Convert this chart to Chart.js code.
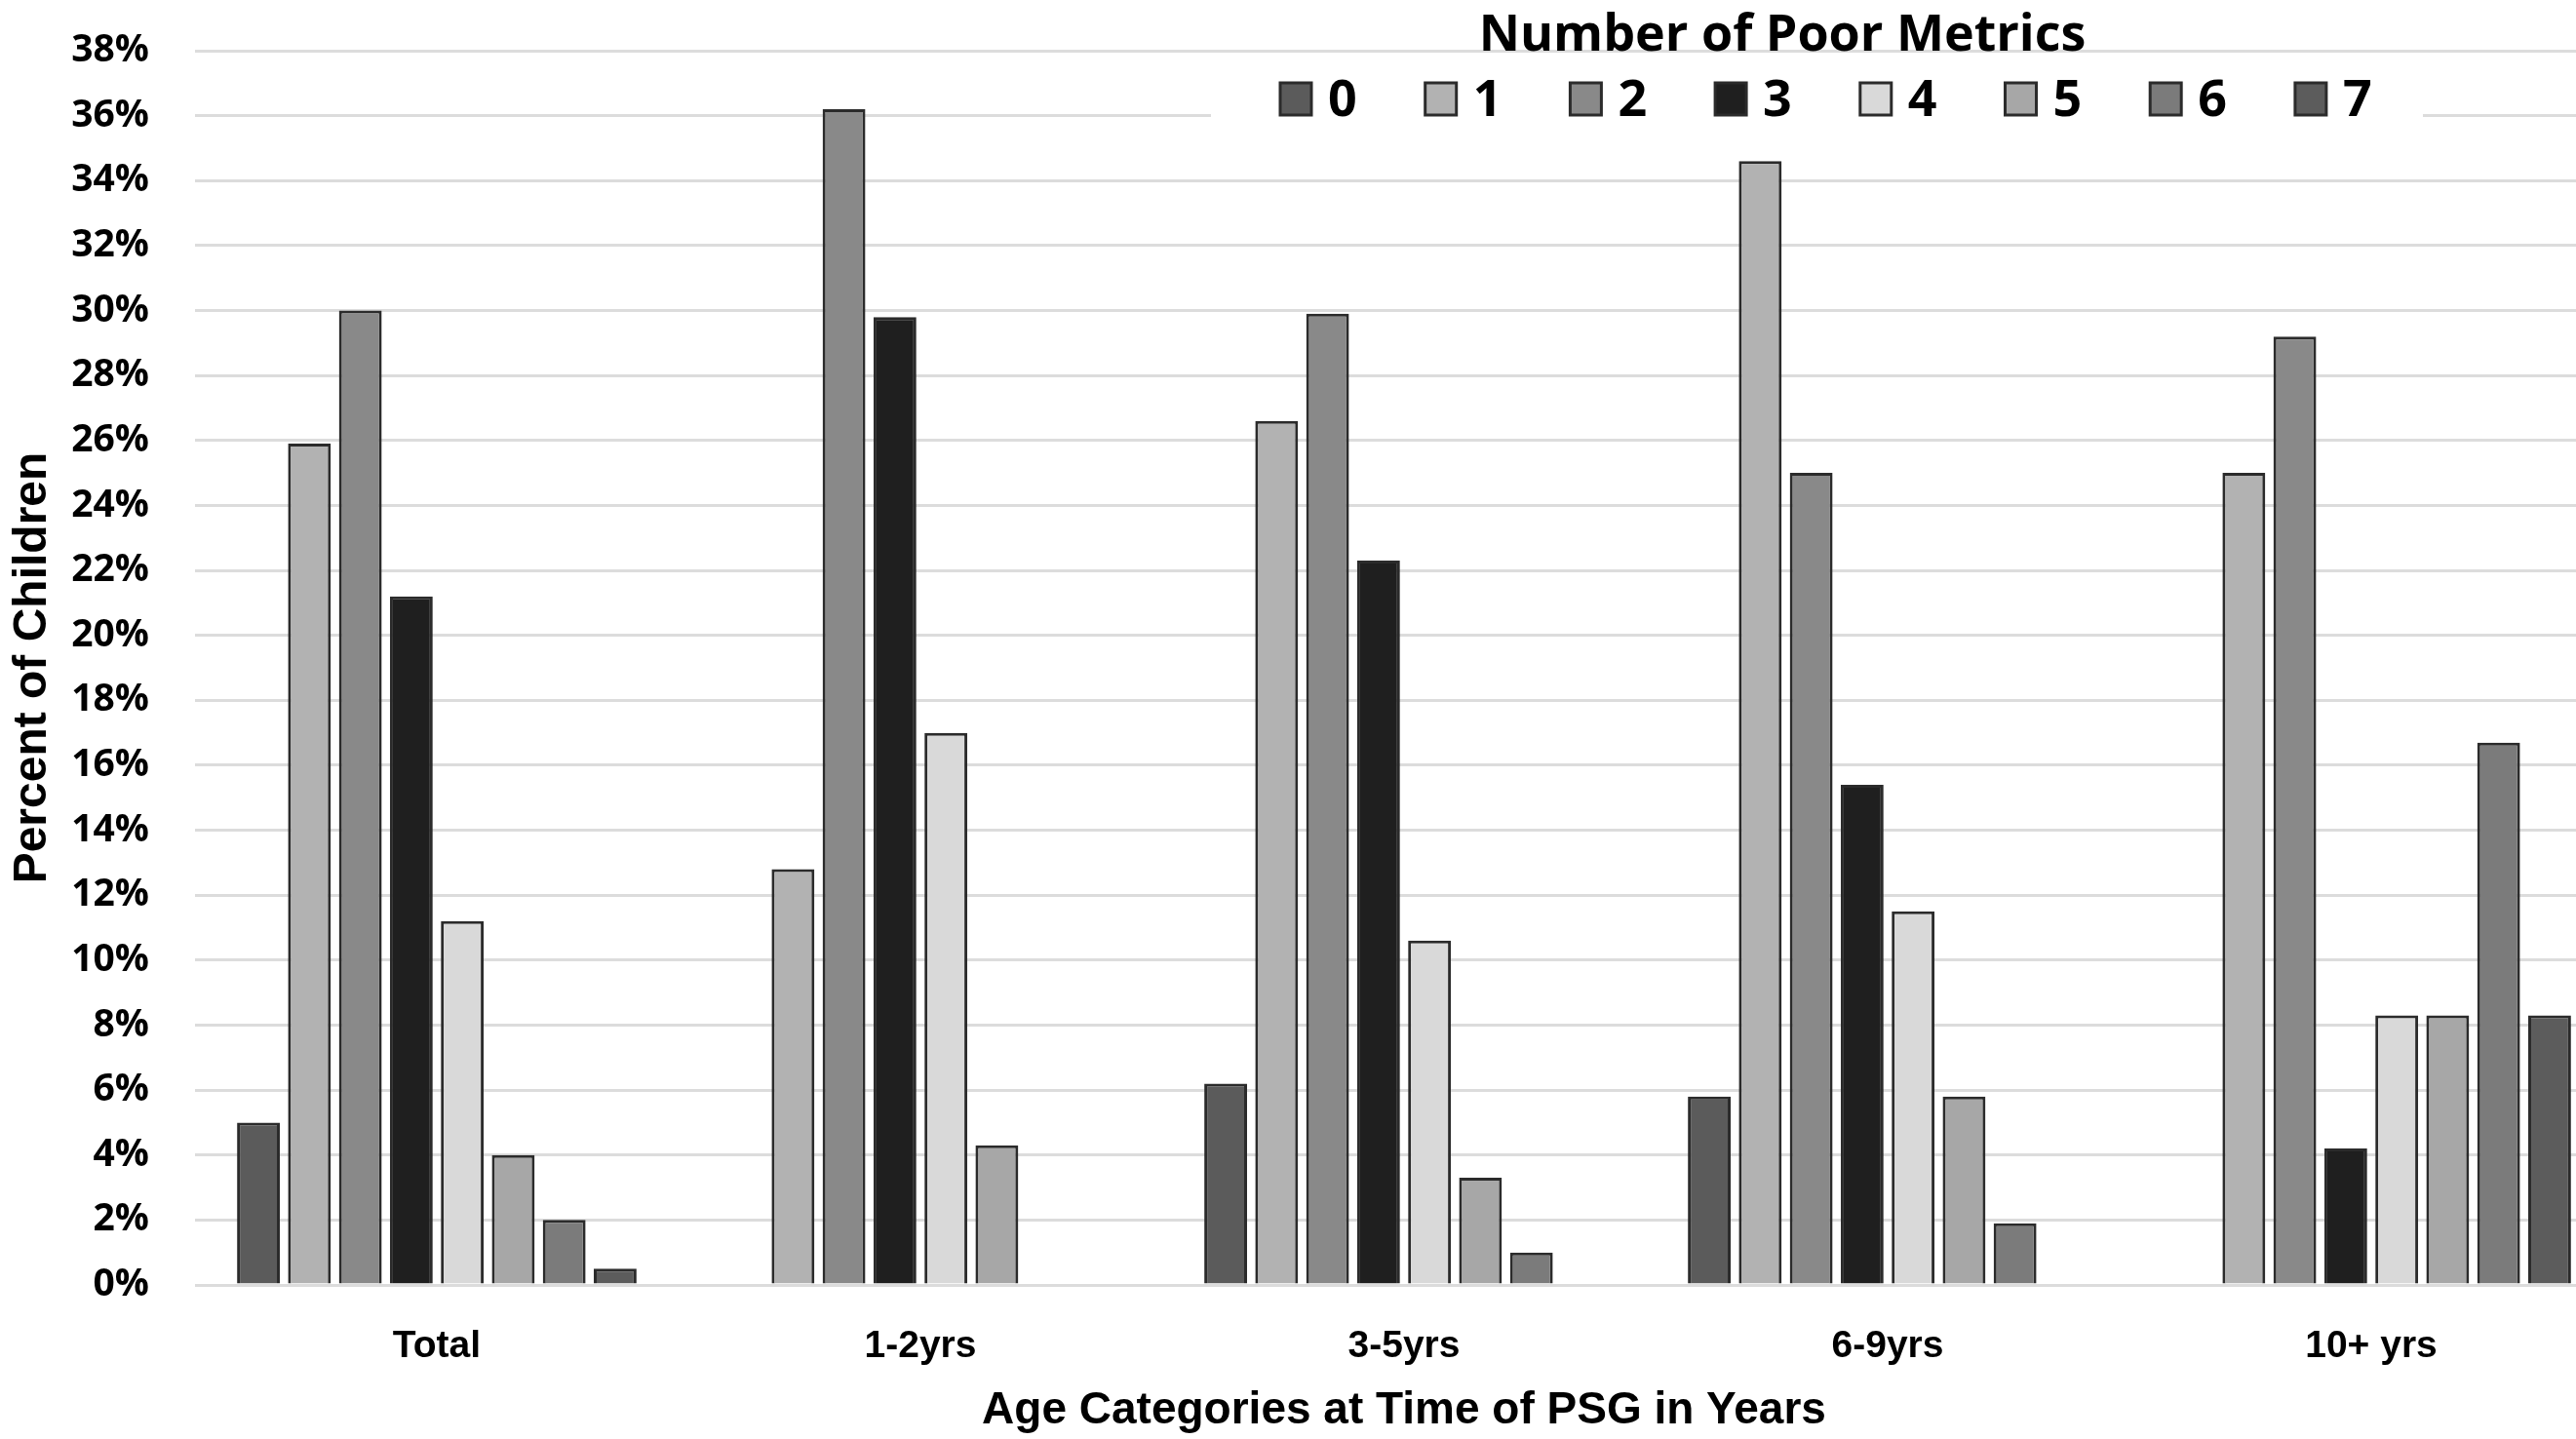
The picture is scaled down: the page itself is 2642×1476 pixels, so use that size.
<!DOCTYPE html>
<html>
<head>
<meta charset="utf-8">
<script src="https://cdn.jsdelivr.net/npm/chart.js@4/dist/chart.umd.min.js"></script>
<style>
  html, body { margin: 0; padding: 0; background: #fff; overflow: hidden; }
  #wrap { width: 2690px; height: 1476px; }
</style>
</head>
<body>
<div id="wrap"><canvas id="myChart"></canvas></div>
<script>
// age groups on the x axis
var categories = ['Total', '1-2yrs', '3-5yrs', '6-9yrs', '10+ yrs'];

// percent of children per number of poor metrics (0..7), one array per metric count
var metric0 = [5.0, 0, 6.2, 5.8, 0];
var metric1 = [25.9, 12.8, 26.6, 34.6, 25.0];
var metric2 = [30.0, 36.2, 29.9, 25.0, 29.2];
var metric3 = [21.2, 29.8, 22.3, 15.4, 4.2];
var metric4 = [11.2, 17.0, 10.6, 11.5, 8.3];
var metric5 = [4.0, 4.3, 3.3, 5.8, 8.3];
var metric6 = [2.0, 0, 1.0, 1.9, 16.7];
var metric7 = [0.5, 0, 0, 0, 8.3];

var seriesLabels = ['0', '1', '2', '3', '4', '5', '6', '7'];
var seriesValues = [metric0, metric1, metric2, metric3, metric4, metric5, metric6, metric7];
var seriesColors = ['#5b5b5b', '#b2b2b2', '#898989', '#1f1f1f', '#d9d9d9', '#a7a7a7', '#7b7b7b', '#5c5c5c'];

// y axis: 0% .. 38% every 2%
var yMax = 38;
var yStep = 2;

var datasets = seriesValues.map(function(vals, i) {
    return {
        label: seriesLabels[i],
        data: vals,
        backgroundColor: seriesColors[i],
        borderColor: '#2b2b2b',
        borderWidth: 3,
        categoryPercentage: 0.843,
        barPercentage: 0.84
    };
});

// legend drawn inside the plot, with its title above it
var boxLegend = {
    id: 'boxLegend',
    afterDraw: function(chart) {
        var ctx = chart.ctx;
        ctx.save();
        ctx.fillStyle = '#ffffff';
        ctx.fillRect(1242, 76, 1243, 58);

        ctx.fillStyle = '#000';
        ctx.font = 'bold 52px "Open Sans"';
        ctx.textAlign = 'center';
        ctx.textBaseline = 'alphabetic';
        ctx.fillText('Number of Poor Metrics', 1828, 52);

        ctx.textAlign = 'left';
        chart.data.datasets.forEach(function(ds, i) {
            var x = 1313 + i * 148.7;
            ctx.fillStyle = ds.backgroundColor;
            ctx.fillRect(x, 85, 32, 33);
            ctx.strokeStyle = '#2b2b2b';
            ctx.lineWidth = 3;
            ctx.strokeRect(x, 85, 32, 33);
            ctx.fillStyle = '#000';
            ctx.fillText(ds.label, x + 49, 119);
        });
        ctx.restore();
    }
};

var ctx = document.getElementById('myChart').getContext('2d');
var myChart = new Chart(ctx, {
    type: 'bar',
    data: { labels: categories, datasets: datasets },
    plugins: [boxLegend],
    options: {
        responsive: true,
        maintainAspectRatio: false,
        animation: false,
        layout: { padding: { top: 52, right: 10, left: 0, bottom: 0 } },
        plugins: {
            legend: { display: false },
            tooltip: { enabled: false }
        },
        scales: {
            x: {
                grid: { display: false, drawTicks: false },
                border: { display: false },
                ticks: {
                    color: '#000',
                    padding: 40,
                    font: { family: '"Liberation Sans", Arial', weight: 'bold', size: 39 }
                },
                title: {
                    display: true,
                    text: 'Age Categories at Time of PSG in Years',
                    color: '#000',
                    font: { family: '"Liberation Sans", Arial', weight: 'bold', size: 46 },
                    padding: { top: 0, bottom: 1 }
                },
                afterFit: function(scale) { scale.height = 158; }
            },
            y: {
                min: 0,
                max: yMax,
                grid: { color: '#dcdcdc', lineWidth: 3, drawTicks: false },
                border: { display: false },
                ticks: {
                    stepSize: yStep,
                    color: '#000',
                    padding: 47,
                    font: { family: '"Open Sans"', weight: 'bold', size: 39 },
                    callback: function(v) { return v + '%'; }
                },
                title: {
                    display: true,
                    text: 'Percent of Children',
                    color: '#000',
                    font: { family: '"Liberation Sans", Arial', weight: 'bold', size: 48 },
                    padding: { top: 5, bottom: 0 }
                },
                afterFit: function(scale) {
                    scale.width = 200;
                    scale.paddingTop = 0;
                    scale.paddingBottom = 0;
                }
            }
        }
    }
});
</script>
</body>
</html>
